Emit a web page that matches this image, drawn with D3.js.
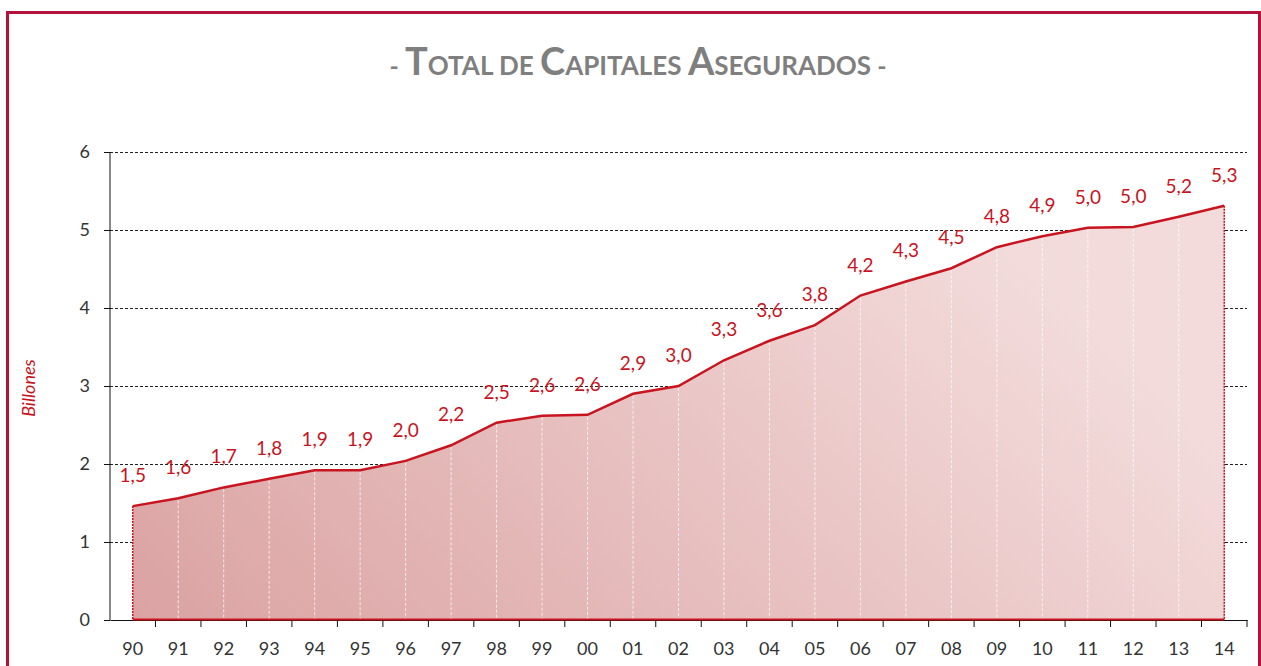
<!DOCTYPE html>
<html lang="es">
<head>
    <meta charset="UTF-8">
    <style>
        body { margin: 0; background: #fff; }
        svg text { font-family: Lato, "Open Sans", sans-serif; }
        .tick text { font-size: 18px; fill: #333; }
        .grid line { stroke: #222; stroke-dasharray: 3,2; stroke-width: 1; }
        .lbl { font-size: 19px; fill: #c8141e; text-anchor: middle; }
    </style>
    <script src="https://d3js.org/d3.v7.min.js"></script>
    <title>Total de Capitales Asegurados</title>
</head>
<body>
    <svg width="1261" height="666"></svg>

    <script>
        // data (billones)
        var years = ["90","91","92","93","94","95","96","97","98","99","00","01","02",
                     "03","04","05","06","07","08","09","10","11","12","13","14"];
        var values = [1.46, 1.56, 1.70, 1.81, 1.92, 1.92, 2.04, 2.24, 2.53, 2.62, 2.63, 2.90, 3.00,
                      3.33, 3.58, 3.78, 4.16, 4.34, 4.51, 4.78, 4.92, 5.03, 5.04, 5.17, 5.31];
        var yTicks = [0, 1, 2, 3, 4, 5, 6];

        var data = years.map(function(y, i) { return { year: y, value: values[i] }; });

        var svg = d3.select("svg");

        // outer frame
        svg.append("path")
           .attr("d", "M7.5,700 V12.5 H1259.5 V700")
           .attr("fill", "none")
           .attr("stroke", "#b5123b")
           .attr("stroke-width", 3);

        // title (small caps by hand)
        var title = svg.append("text")
                       .attr("x", 638)
                       .attr("y", 75)
                       .attr("text-anchor", "middle")
                       .attr("fill", "#7f7f7f")
                       .attr("font-weight", "bold");
        var parts = [["- ", 25], ["T", 38], ["OTAL DE ", 26], ["C", 38], ["APITALES ", 26],
                     ["A", 38], ["SEGURADOS", 26], [" -", 25]];
        parts.forEach(function(p) {
            title.append("tspan").attr("font-size", p[1] + "px").text(p[0]);
        });

        var plotL = 110, plotR = 1247, plotT = 152, plotB = 620;

        var x = d3.scaleBand().domain(years).range([plotL, plotR]);
        var y = d3.scaleLinear().domain([0, 6]).range([plotB, plotT]);
        var cx = function(d) { return x(d.year) + x.bandwidth() / 2; };

        // gradient for the area
        var grad = svg.append("defs").append("linearGradient")
                      .attr("id", "fillGrad")
                      .attr("x1", "0%").attr("y1", "100%")
                      .attr("x2", "100%").attr("y2", "60%");
        grad.append("stop").attr("offset", "0%").attr("stop-color", "#dba2a2");
        grad.append("stop").attr("offset", "100%").attr("stop-color", "#f3dbdb");

        // horizontal grid
        svg.append("g")
           .attr("class", "grid")
           .selectAll("line")
           .data(yTicks.filter(function(t) { return t > 0; }))
           .enter().append("line")
           .attr("x1", plotL).attr("x2", plotR)
           .attr("y1", function(d) { return y(d) + 0.5; })
           .attr("y2", function(d) { return y(d) + 0.5; });

        // area
        var area = d3.area()
                     .x(cx)
                     .y0(y(0))
                     .y1(function(d) { return y(d.value); });
        svg.append("path")
           .datum(data)
           .attr("d", area)
           .attr("fill", "url(#fillGrad)");

        // white drop lines
        svg.append("g")
           .selectAll("line")
           .data(data.slice(1, -1))
           .enter().append("line")
           .attr("x1", cx).attr("x2", cx)
           .attr("y1", function(d) { return y(d.value) + 2; })
           .attr("y2", y(0))
           .attr("stroke", "#fff")
           .attr("stroke-opacity", 0.75)
           .attr("stroke-dasharray", "3,2");

        // axes
        var yAxis = svg.append("g")
                       .attr("transform", "translate(" + plotL + ",0)")
                       .call(d3.axisLeft(y).tickValues(yTicks).tickFormat(d3.format("d"))
                                 .tickSize(6).tickPadding(14));
        yAxis.selectAll("path, line").attr("stroke", "#111");
        yAxis.select(".domain").attr("d", "M0," + plotT + "V" + plotB);

        var xAxis = svg.append("g")
                       .attr("transform", "translate(0," + plotB + ")")
                       .call(d3.axisBottom(x).tickSize(0).tickPadding(22));
        xAxis.select(".domain").attr("stroke", "#111");
        // ticks between categories
        xAxis.selectAll(".sep")
             .data(years)
             .enter().append("line")
             .attr("x1", function(d) { return x(d) + x.bandwidth(); })
             .attr("x2", function(d) { return x(d) + x.bandwidth(); })
             .attr("y1", 0).attr("y2", 7)
             .attr("stroke", "#111");

        // area border: sides dashed, bottom and top solid
        var first = data[0], last = data[data.length - 1];
        [first, last].forEach(function(d) {
            svg.append("line")
               .attr("x1", cx(d)).attr("x2", cx(d))
               .attr("y1", y(d.value)).attr("y2", y(0))
               .attr("stroke", "#c8141e").attr("stroke-width", 1.5)
               .attr("stroke-dasharray", "2,1");
        });
        svg.append("line")
           .attr("x1", cx(first)).attr("x2", cx(last))
           .attr("y1", y(0) - 0.5).attr("y2", y(0) - 0.5)
           .attr("stroke", "#c8141e").attr("stroke-width", 2);

        var line = d3.line()
                     .x(cx)
                     .y(function(d) { return y(d.value); });
        svg.append("path")
           .datum(data)
           .attr("d", line)
           .attr("fill", "none")
           .attr("stroke", "#c8141e")
           .attr("stroke-width", 2.5);

        // data labels
        var fmt = function(v) { return v.toFixed(1).replace(".", ","); };
        svg.append("g")
           .selectAll("text")
           .data(data)
           .enter().append("text")
           .attr("class", "lbl")
           .attr("x", cx)
           .attr("y", function(d) { return y(d.value) - 24; })
           .text(function(d) { return fmt(d.value); });

        // y axis title
        svg.append("text")
           .attr("transform", "translate(35,388) rotate(-90)")
           .attr("text-anchor", "middle")
           .attr("font-size", "18px")
           .attr("font-style", "italic")
           .attr("fill", "#c8141e")
           .text("Billones");
    </script>
</body>
</html>
